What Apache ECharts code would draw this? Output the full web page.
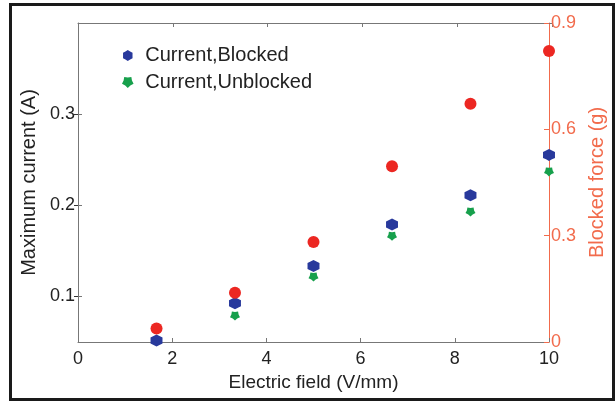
<!DOCTYPE html>
<html>
<head>
<meta charset="utf-8">
<script src="https://cdn.jsdelivr.net/npm/echarts@6/dist/echarts.min.js"></script>
<style>
html,body{margin:0;padding:0;background:#fff;}
#chart{width:615px;height:401px;}
</style>
</head>
<body>
<div id="chart"></div>
<script>
// ---- data ----
var fieldValues = [1.667, 3.333, 5, 6.667, 8.333, 10];
var currentBlocked = [0.0516, 0.0926, 0.1333, 0.179, 0.211, 0.2553];
var currentUnblocked = [0.040, 0.0784, 0.1212, 0.166, 0.1926, 0.2366];
var blockedForce = [0.038, 0.139, 0.282, 0.496, 0.672, 0.821];
var leftTicks = [0.1, 0.2, 0.3];
var seriesNames = ['Current,Blocked', 'Current,Unblocked', 'Blocked force'];

function pairs(xs, ys) { return xs.map(function (x, i) { return [x, ys[i]]; }); }

// marker shapes
function starPath(n, inner, rot) {
  var pts = [];
  for (var i = 0; i < 2 * n; i++) {
    var r = (i % 2 === 0) ? 1 : inner;
    var a = rot + Math.PI * i / n;
    pts.push((50 + 50 * r * Math.sin(a)).toFixed(2) + ' ' + (50 - 50 * r * Math.cos(a)).toFixed(2));
  }
  return 'path://M' + pts.join(' L') + ' Z';
}
var hexSym = starPath(6, 0.86, 0);
var pentSym = starPath(5, 0.72, Math.PI);

var gray = '#777777';
var orange = '#f26b4c';
var textCol = '#222222';
var font = 'Liberation Sans, Arial, Helvetica, sans-serif';
var gridBox = {left: 78, right: 63, top: 23, bottom: 59, containLabel: false};

var chart = echarts.init(document.getElementById('chart'), null, {renderer: 'canvas'});
chart.setOption({
  animation: false,
  backgroundColor: '#ffffff',
  textStyle: {fontFamily: font},
  grid: [Object.assign({}, gridBox), Object.assign({}, gridBox)],
  legend: {
    data: [seriesNames[0], seriesNames[1]],
    orient: 'vertical',
    left: 117, top: 40.5,
    itemWidth: 25, itemHeight: 11, itemGap: 7,
    textStyle: {fontSize: 20, color: textCol, fontFamily: font}
  },
  xAxis: [{
    gridIndex: 0, type: 'value', min: 0, max: 10, interval: 2, position: 'bottom',
    axisLine: {show: true, lineStyle: {color: gray, width: 1}},
    axisTick: {show: true, inside: true, length: 4, lineStyle: {color: gray}},
    axisLabel: {fontSize: 18, color: textCol, margin: 8, fontFamily: font},
    splitLine: {show: false},
    name: 'Electric field (V/mm)', nameLocation: 'middle', nameGap: 22,
    nameTextStyle: {fontSize: 19, color: textCol, fontFamily: font, verticalAlign: 'top'}
  }, {
    gridIndex: 1, type: 'value', min: 0, max: 10, interval: 2, position: 'top',
    axisLine: {show: true, lineStyle: {color: gray, width: 1}},
    axisTick: {show: true, inside: true, length: 4, lineStyle: {color: gray}},
    axisLabel: {show: false}, splitLine: {show: false}
  }],
  yAxis: [{
    gridIndex: 0, type: 'value', min: 0.05, max: 0.4, position: 'left',
    axisLine: {show: true, lineStyle: {color: gray, width: 1}},
    axisTick: {show: true, inside: true, length: 4, customValues: leftTicks, lineStyle: {color: gray}},
    axisLabel: {fontSize: 18, color: textCol, margin: 3, customValues: leftTicks, fontFamily: font},
    splitLine: {show: false},
    name: 'Maximum current (A)', nameLocation: 'middle', nameGap: 35, nameRotate: 90,
    nameTextStyle: {fontSize: 20, color: textCol, fontFamily: font}
  }, {
    gridIndex: 0, type: 'value', min: 0, max: 0.9, interval: 0.3, position: 'right',
    axisLine: {show: true, lineStyle: {color: orange, width: 1}},
    axisTick: {show: true, inside: true, length: 5, lineStyle: {color: orange}},
    axisLabel: {fontSize: 18, color: orange, margin: 2, fontFamily: font},
    splitLine: {show: false},
    name: 'Blocked force (g)', nameLocation: 'middle', nameGap: 38, nameRotate: 90,
    nameTextStyle: {fontSize: 20, color: orange, fontFamily: font, verticalAlign: 'top'}
  }, {
    gridIndex: 1, type: 'value', min: 0.05, max: 0.4, position: 'right',
    axisLine: {show: false},
    axisTick: {show: true, inside: true, length: 4, customValues: leftTicks, lineStyle: {color: '#333'}},
    axisLabel: {show: false}, splitLine: {show: false}
  }],
  series: [{
    name: seriesNames[1], type: 'scatter', xAxisIndex: 0, yAxisIndex: 0, clip: true,
    symbol: pentSym, symbolSize: [10, 9],
    itemStyle: {color: '#17a04c', opacity: 1},
    data: pairs(fieldValues, currentUnblocked)
  }, {
    name: seriesNames[0], type: 'scatter', xAxisIndex: 0, yAxisIndex: 0, clip: true,
    symbol: hexSym, symbolSize: 12,
    itemStyle: {color: '#28399c', opacity: 1},
    data: pairs(fieldValues, currentBlocked)
  }, {
    name: seriesNames[2], type: 'scatter', xAxisIndex: 0, yAxisIndex: 1, clip: true,
    symbol: 'circle', symbolSize: 12,
    itemStyle: {color: '#ec2722', opacity: 1},
    data: pairs(fieldValues, blockedForce)
  }],
  graphic: [{
    type: 'rect', left: 8, top: 2, silent: true, z: 100,
    shape: {width: 603, height: 395},
    style: {fill: null, stroke: '#1a1a1a', lineWidth: 3}
  }]
});
</script>
</body>
</html>
